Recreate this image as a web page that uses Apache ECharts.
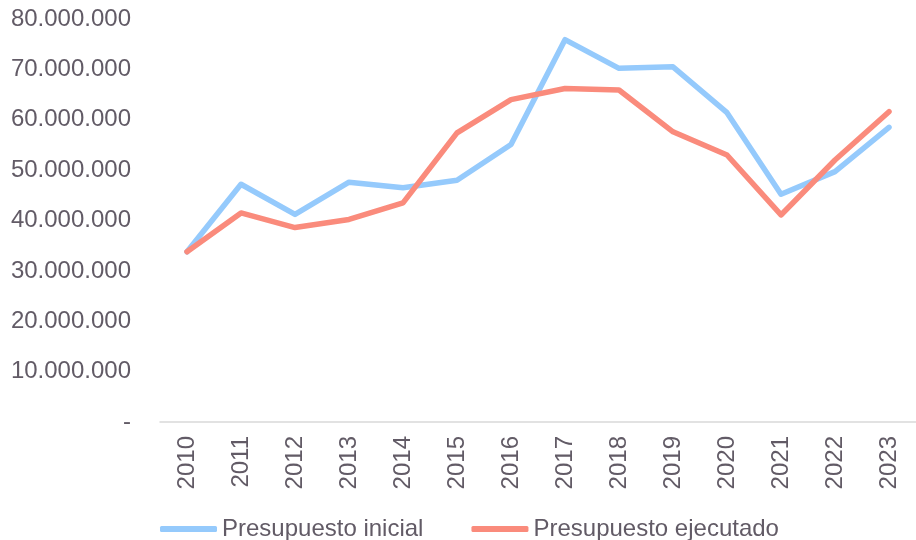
<!DOCTYPE html>
<html>
<head>
    <meta charset="utf-8" />
    <title>Presupuesto</title>
    <style>
        body { margin: 0; background: #fff; }
        #main { width: 916px; height: 540px; }
    </style>
</head>
<body>
    <div id="main"></div>
    <script src="https://cdn.jsdelivr.net/npm/echarts@6/dist/echarts.min.js"></script>
    <script type="text/javascript">
        var years = ['2010', '2011', '2012', '2013', '2014', '2015', '2016',
            '2017', '2018', '2019', '2020', '2021', '2022', '2023'];
        var inicial = [33800000, 47200000, 41200000, 47600000, 46500000, 48000000, 55100000,
            75900000, 70200000, 70500000, 61400000, 45200000, 49700000, 58500000];
        var ejecutado = [33800000, 41500000, 38600000, 40200000, 43500000, 57400000, 64000000,
            66200000, 65900000, 57600000, 53000000, 41100000, 52000000, 61600000];

        var textColor = '#625b66';
        var font = 'Liberation Sans, Arial, sans-serif';

        var myChart = echarts.init(document.getElementById('main'));
        var option = {
            animation: false,
            grid: {
                left: 160,
                right: 0,
                top: 19,
                bottom: 118
            },
            legend: {
                left: 155,
                top: 512,
                itemGap: 48,
                itemWidth: 57,
                itemHeight: 6,
                icon: 'roundRect',
                textStyle: { color: textColor, fontSize: 24, fontFamily: font }
            },
            xAxis: {
                type: 'category',
                data: years,
                axisLine: { lineStyle: { color: '#d9d9d9', width: 1.5 } },
                axisTick: { show: false },
                axisLabel: {
                    rotate: 90,
                    margin: 14,
                    color: textColor,
                    fontSize: 24,
                    fontFamily: font
                }
            },
            yAxis: {
                type: 'value',
                min: 0,
                max: 80000000,
                interval: 10000000,
                splitLine: { show: false },
                axisLine: { show: false },
                axisTick: { show: false },
                axisLabel: {
                    margin: 29,
                    color: textColor,
                    fontSize: 24,
                    fontFamily: font,
                    formatter: function (v) {
                        if (v === 0) return '-';
                        return String(v).replace(/\B(?=(\d{3})+(?!\d))/g, '.');
                    }
                }
            },
            series: [
                {
                    name: 'Presupuesto inicial',
                    type: 'line',
                    data: inicial,
                    symbol: 'none',
                    itemStyle: { color: '#95cafc' },
                    lineStyle: { color: '#95cafc', width: 5.5, cap: 'round', join: 'round' }
                },
                {
                    name: 'Presupuesto ejecutado',
                    type: 'line',
                    data: ejecutado,
                    symbol: 'none',
                    itemStyle: { color: '#fa8b7c' },
                    lineStyle: { color: '#fa8b7c', width: 5.5, cap: 'round', join: 'round' }
                }
            ]
        };
        myChart.setOption(option);
    </script>
</body>
</html>
